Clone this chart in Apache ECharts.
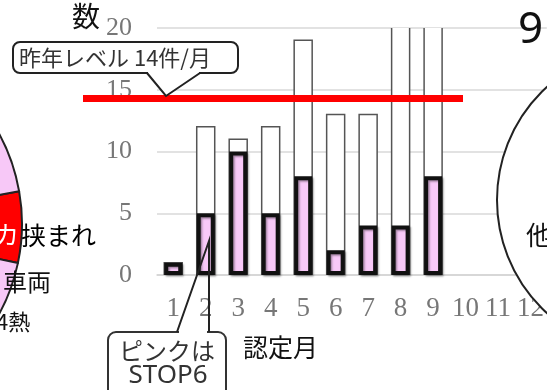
<!DOCTYPE html>
<html>
<head>
<meta charset="utf-8">
<script src="https://cdn.jsdelivr.net/npm/echarts@6/dist/echarts.min.js"></script>
<style>
  html, body { margin: 0; padding: 0; background: #fff; }
  #main { width: 547px; height: 390px; }
</style>
</head>
<body>
<div id="main"></div>
<script type="text/javascript">
// 認定月ごとの件数
var months = ['1', '2', '3', '4', '5', '6', '7', '8', '9', '10', '11', '12'];
var totalCounts = [1, 12, 11, 12, 19, 13, 13, 25, 25, null, null, null];   // 8,9月は上限超え
var stop6Counts = [1, 5, 10, 5, 8, 2, 4, 4, 8, null, null, null];          // ピンク = STOP6
var lastYearLevel = 14.3;                                                  // 昨年レベル 14件/月
var yTicks = [0, 5, 10, 15, 20];

// 左右の円グラフ（一部のみ見えている）
var leftPieNames = ['カ挟まれ', '車両', 'その他', '熱'];
var leftPieValues = [22, 60, 210, 68];
var leftPieColors = ['#ff0000', '#f7c8f7', '#f7c8f7', '#f7c8f7'];
var rightPieNames = ['他'];
var rightPieValues = [1];

var myChart = echarts.init(document.getElementById('main'));

var serif = '"Liberation Serif", "DejaVu Serif", serif';
var jp = '"Noto Sans CJK JP", "Noto Sans", sans-serif';
var yMax = yTicks[yTicks.length - 1];
var barW = 18;

function txt(text, x, y, size, color, align, family) {
    return {
        type: 'text', z: 100, x: x, y: y,
        style: {
            text: text, font: size + 'px ' + (family || jp), fill: color || '#111',
            align: align || 'left', verticalAlign: 'middle',
            textAlign: align || 'left', textVerticalAlign: 'middle'
        }
    };
}

// 件数の棒：上限を超えた月は上端を開いたまま描く
function renderTotal(params, api) {
    var v = api.value(1);
    if (v == null || isNaN(v)) return null;
    var base = api.coord([api.value(0), 0]);
    var top = api.coord([api.value(0), Math.min(v, yMax)]);
    var l = base[0] - barW / 2, r = base[0] + barW / 2;
    var b = base[1], t = top[1];
    var children = [{
        type: 'rect', shape: { x: l, y: t, width: barW, height: b - t },
        style: { fill: '#fff' }
    }];
    if (v > yMax) {
        children.push({ type: 'line', shape: { x1: l, y1: b, x2: l, y2: t }, style: { stroke: '#555', lineWidth: 1.5 } });
        children.push({ type: 'line', shape: { x1: r, y1: b, x2: r, y2: t }, style: { stroke: '#555', lineWidth: 1.5 } });
    } else {
        children.push({ type: 'polyline', shape: { points: [[l, b], [l, t], [r, t], [r, b]] },
                        style: { stroke: '#555', lineWidth: 1.5, fill: null } });
    }
    return { type: 'group', children: children };
}

option = {
    animation: false,
    backgroundColor: '#fff',
    grid: [
        { left: 157, top: 28, width: 391, height: 247 },
        { left: 83, top: 28, width: 380, height: 247 }
    ],
    xAxis: [{
        type: 'category',
        gridIndex: 0,
        data: months,
        axisTick: { show: false },
        axisLine: { lineStyle: { color: '#d4d4d4', width: 1.5 } },
        axisLabel: { interval: 0, margin: 20, color: '#777', fontSize: 27, fontFamily: serif }
    }, {
        type: 'value', gridIndex: 1, min: 0, max: 1, show: false
    }],
    yAxis: [{
        type: 'value',
        gridIndex: 0,
        min: yTicks[0],
        max: yMax,
        interval: 5,
        axisLine: { show: false },
        axisTick: { show: false },
        splitLine: { lineStyle: { color: '#d9d9d9', width: 1.5 } },
        axisLabel: { margin: 25, color: '#777', fontSize: 26, fontFamily: serif }
    }, {
        type: 'value', gridIndex: 1, min: 0, max: yMax, show: false
    }],
    series: [
        {
            name: '件数',
            type: 'custom',
            xAxisIndex: 0, yAxisIndex: 0,
            renderItem: renderTotal,
            data: totalCounts.map(function (v, i) { return [i, v]; }),
            z: 2
        },
        {
            name: 'STOP6',
            type: 'bar',
            xAxisIndex: 0, yAxisIndex: 0,
            barWidth: barW,
            data: stop6Counts,
            itemStyle: {
                color: '#f8c9f8', borderColor: '#111', borderWidth: 4,
                shadowColor: 'rgba(0,0,0,0.35)', shadowBlur: 2, shadowOffsetX: 1.5, shadowOffsetY: 1.5
            },
            z: 3
        },
        {
            name: '昨年レベル',
            type: 'line',
            xAxisIndex: 1, yAxisIndex: 1,
            data: [[0, lastYearLevel], [1, lastYearLevel]],
            showSymbol: false,
            lineStyle: { color: '#ff0000', width: 7 },
            z: 5
        },
        {
            name: '左円',
            type: 'pie',
            center: [-166, 224],
            radius: 188,
            startAngle: 10,
            clockwise: true,
            label: { show: false },
            labelLine: { show: false },
            itemStyle: { borderColor: '#222', borderWidth: 2 },
            data: leftPieNames.map(function (n, i) {
                return { name: n, value: leftPieValues[i], itemStyle: { color: leftPieColors[i] } };
            }),
            z: 1
        },
        {
            name: '右円',
            type: 'pie',
            center: [650, 200],
            radius: 153,
            label: { show: false },
            labelLine: { show: false },
            itemStyle: { color: '#fff', borderColor: '#222', borderWidth: 2 },
            data: rightPieNames.map(function (n, i) {
                return { name: n, value: rightPieValues[i] };
            }),
            z: 6
        }
    ],
    graphic: [
        // 昨年レベル 吹き出し
        { type: 'rect', z: 100, shape: { x: 13, y: 42, width: 225, height: 31, r: 7 },
          style: { fill: '#fff', stroke: '#222', lineWidth: 2 } },
        { type: 'polygon', z: 101, shape: { points: [[148, 70], [148, 74], [166, 96], [199, 74], [199, 70]] },
          style: { fill: '#fff' } },
        { type: 'polyline', z: 102, shape: { points: [[147, 73], [166, 96], [200, 73]] },
          style: { stroke: '#222', lineWidth: 2, fill: null } },
        txt('昨年レベル 14件/月', 19, 58, 22, '#333'),

        // ピンクは STOP6 吹き出し
        { type: 'rect', z: 100, shape: { x: 108, y: 332, width: 118, height: 70, r: 8 },
          style: { fill: '#fff', stroke: '#333', lineWidth: 2 } },
        { type: 'line', z: 101, shape: { x1: 179, y1: 332, x2: 207, y2: 332 },
          style: { stroke: '#fff', lineWidth: 3 } },
        { type: 'polyline', z: 102, shape: { points: [[177, 332], [209, 241], [209, 332]] },
          style: { stroke: '#222', lineWidth: 2, fill: null } },
        txt('ピンクは', 167, 351, 24, '#333', 'center'),
        txt('STOP6', 168, 376, 26, '#333', 'center', '"Noto Sans", sans-serif'),

        // 軸タイトル
        txt('数', 72, 16, 28, '#111'),
        txt('認定月', 243, 347, 25, '#111'),

        // 左円のラベル
        txt('カ', -6, 234, 25, '#fff'),
        txt('挟まれ', 21, 235, 25, '#000'),
        txt('車両', 3, 282, 24, '#111'),
        txt('4熱', -4, 322, 22, '#111'),

        // 右円
        txt('9', 518, 30, 44, '#111', 'left', '"Noto Sans", sans-serif'),
        txt('他', 526, 235, 26, '#111')
    ]
};

myChart.setOption(option);
</script>
</body>
</html>
